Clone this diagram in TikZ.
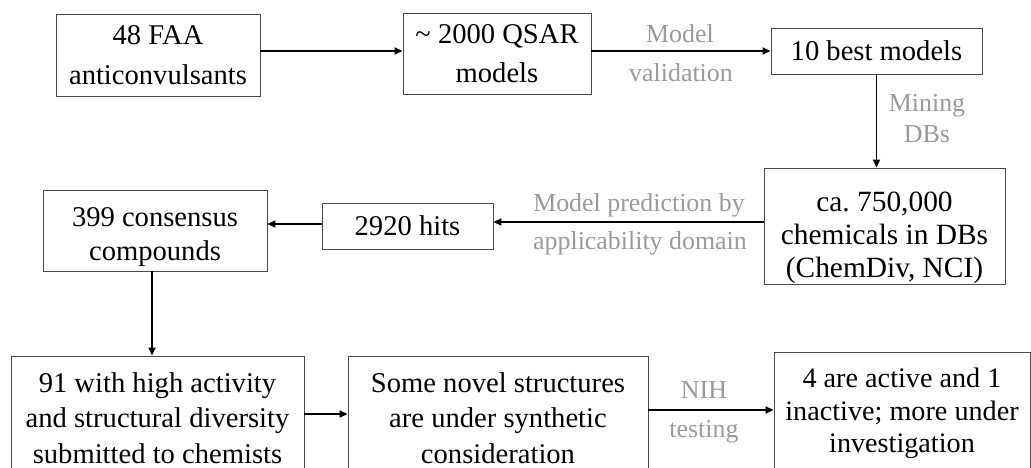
\documentclass[tikz,border=0pt]{standalone}
\usepackage{fontspec}
\setmainfont{Liberation Serif}
\usetikzlibrary{arrows.meta,calc}
\definecolor{edgegray}{HTML}{4A4A4A}
\definecolor{labelgray}{HTML}{9A9A9A}
\tikzset{
  stepbox/.style={draw=edgegray, line width=0.9bp, fill=white, inner sep=0pt,
    align=center, font=\fontsize{28.7}{#1}\selectfont},
  stepbox/.default=35.5,
  flow/.style={line width=1.8bp, -{Triangle[length=8bp,width=7bp]}},
  note/.style={text=labelgray, inner sep=0pt, anchor=base,
    font=\fontsize{26}{31}\selectfont},
}
% taller first line, which lowers a block of lines inside its box
\newcommand\toppad[1]{\rule{0pt}{#1}}
\begin{document}
\frenchspacing
\begin{tikzpicture}[x=1bp,y=-1bp]
\useasboundingbox[fill=white] (0,0) rectangle (1031,468);

% process boxes
\node[stepbox=40, minimum width=204bp, minimum height=82bp] (faa) at (158,55) {48 FAA\\anticonvulsants};
\node[stepbox=39, minimum width=188bp, minimum height=81bp] (qsar) at (497,53.5) {\char`\~{} 2000 QSAR\\models};
\node[stepbox, minimum width=211bp, minimum height=46bp] (best) at (876.5,51) {10 best models};
\node[stepbox, font=\fontsize{29.5}{33}\selectfont, minimum width=241bp, minimum height=116bp] (dbs) at (884.5,226)
  {\toppad{44bp}ca. 750,000\\chemicals in DBs\\(ChemDiv, NCI)};
\node[stepbox, minimum width=171bp, minimum height=46bp] (hits) at (407.5,226) {2920 hits};
\node[stepbox=34, minimum width=224bp, minimum height=81bp] (cons) at (155,230.5) {\toppad{31.5bp}399 consensus\\compounds};
\node[stepbox, minimum width=293bp, minimum height=124bp] (sub) at (157.5,418) {91 with high activity\\and structural diversity\\submitted to chemists};
\node[stepbox, minimum width=300bp, minimum height=124bp] (novel) at (498,418) {Some novel structures\\are under synthetic\\consideration};
\node[stepbox, font=\fontsize{28.3}{32.5}\selectfont, minimum width=256bp, minimum height=123bp] (act) at (902,413.5) {4 are active and 1\\inactive; more under\\investigation};

% connectors
\draw[flow] ([yshift=4bp]faa.east) -- ([yshift=4bp]faa.east -| qsar.west);
\draw[flow] (best.west -| qsar.east) -- (best.west);
\draw[flow] (best.south) -- (best.south |- dbs.north);
\draw[flow] ([yshift=4bp]dbs.west) -- ([yshift=4bp]dbs.west -| hits.east);
\draw[flow] ([yshift=2bp]hits.west) -- ([yshift=2bp]hits.west -| cons.east);
\draw[flow] ([xshift=-3bp]cons.south) -- ([xshift=-3bp]cons.south |- sub.north);
\draw[flow] ([yshift=4bp]sub.east) -- ([yshift=4bp]sub.east -| novel.west);
\draw[flow] ([yshift=8bp]novel.east) -- ([yshift=8bp]novel.east -| act.west);

% connector labels, placed on their baselines
\node[note] (valA) at (680,43) {Model};
\node[note] (valB) at (681,82) {validation};
\node[note] (mineA) at (927,112) {Mining};
\node[note] (mineB) at (927,143) {DBs};
\node[note] (predA) at (639,212) {Model prediction by};
\node[note] (predB) at (640,250) {applicability domain};
\node[note] (nihA) at (704,399) {NIH};
\node[note] (nihB) at (704,437) {testing};
\end{tikzpicture}
\end{document}
